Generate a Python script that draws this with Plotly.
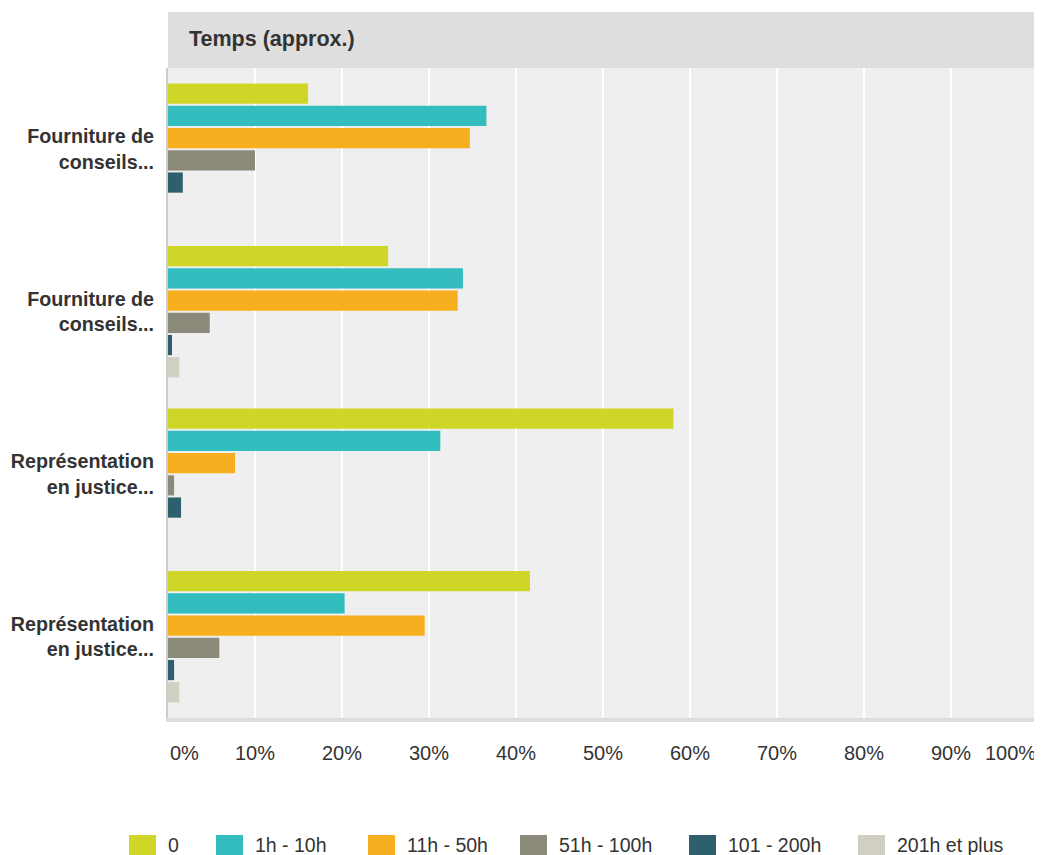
import plotly.graph_objects as go

categories = ["Fourniture de<br>conseils...", "Fourniture de<br>conseils...",
              "Représentation<br>en justice...", "Représentation<br>en justice..."]
cat_ids = ["c1", "c2", "c3", "c4"]
series_names = ["0", "1h - 10h", "11h - 50h", "51h - 100h", "101 - 200h", "201h et plus"]
series_values = [
    [16.1, 25.3, 58.1, 41.6],
    [36.6, 33.9, 31.3, 20.3],
    [34.7, 33.3, 7.7, 29.5],
    [10.0, 4.8, 0.7, 5.9],
    [1.7, 0.46, 1.5, 0.7],
    [0.0, 1.3, 0.0, 1.3],
]
colors = ["#cfd628", "#33bdbf", "#f7af1f", "#8b8a7a", "#2e5f6c", "#d0cfc2"]
x_ticks = [0, 10, 20, 30, 40, 50, 60, 70, 80, 90, 100]
x_tick_labels = ["0%", "10%", "20%", "30%", "40%", "50%", "60%", "70%", "80%", "90%", "100%"]
title_text = "Temps (approx.)"

FONT = "Liberation Sans, Arial, sans-serif"
TXT = "#333333"

fig = go.Figure()
for name, vals, col in zip(series_names, series_values, colors):
    fig.add_trace(go.Bar(
        y=cat_ids, x=vals, name=name, orientation="h",
        marker=dict(color=col, line=dict(width=0)),
        showlegend=False,
    ))

OFF = 8  # page body margin
W, H = 1042 - OFF, 855 - OFF
L, R, T, B = 168 - OFF, 4, 68 - OFF, 855 - 718
PW, PH = W - L - R, H - T - B

def px_x(x):  # reference pixel x -> paper
    return (x - OFF - L) / PW

def px_y(y):  # reference pixel y -> paper
    return (H - B - (y - OFF)) / PH

fig.update_layout(
    width=W, height=H,
    margin=dict(l=L, r=R, t=T, b=B, autoexpand=False),
    paper_bgcolor="white",
    plot_bgcolor="#efefef",
    barmode="group",
    bargap=0.18,
    bargroupgap=0.09,
    font=dict(family=FONT, color=TXT),
    xaxis=dict(
        range=[0, 100], tickvals=x_ticks, showticklabels=False,
        showgrid=True, gridcolor="white", gridwidth=2,
        zeroline=False, showline=True, linecolor="#dcdcdc", linewidth=4,
        fixedrange=True, automargin=False,
    ),
    yaxis=dict(
        autorange="reversed", automargin=False,
        tickvals=cat_ids, ticktext=["<b>" + c + "</b>" for c in categories],
        tickfont=dict(size=19.7, color=TXT, family=FONT),
        ticks="outside", ticklen=8, tickcolor="rgba(0,0,0,0)",
        showgrid=False, zeroline=False,
        showline=True, linecolor="#cccccc", linewidth=2,
    ),
)

# header band
fig.add_shape(type="rect", xref="paper", yref="paper",
              x0=0, x1=px_x(1042), y0=1, y1=px_y(12),
              fillcolor="#dedede", line=dict(width=0), layer="below")
fig.add_annotation(text="<b>" + title_text + "</b>", xref="paper", yref="paper",
                   x=px_x(187), y=px_y(39), xanchor="left", yanchor="middle",
                   showarrow=False, font=dict(size=21.5, color=TXT, family=FONT))

# x tick labels
for v, lab in zip(x_ticks, x_tick_labels):
    anchor = "left" if v == 0 else ("right" if v == 100 else "center")
    fig.add_annotation(text=lab, x=v, xref="x", y=px_y(753), yref="paper",
                       xanchor=anchor, yanchor="middle", showarrow=False,
                       font=dict(size=20, color=TXT, family=FONT))

# custom legend
legend_x = [129, 216, 368, 520, 689, 858]
for lx, name, col in zip(legend_x, series_names, colors):
    fig.add_shape(type="rect", xref="paper", yref="paper",
                  x0=px_x(lx), x1=px_x(lx + 27),
                  y0=px_y(835), y1=px_y(855),
                  fillcolor=col, line=dict(width=0))
    fig.add_annotation(text=name, xref="paper", yref="paper",
                       x=px_x(lx + 37), y=px_y(845),
                       xanchor="left", yanchor="middle", showarrow=False,
                       font=dict(size=19.5, color=TXT, family=FONT))

fig.write_html("out.html")
